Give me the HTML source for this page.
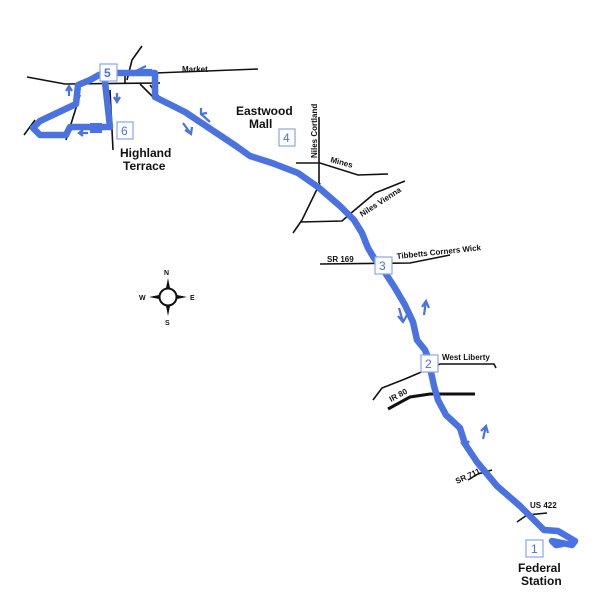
<!DOCTYPE html>
<html><head><style>
html,body{margin:0;padding:0;background:#fff;}
svg{display:block;}
text{font-family:"Liberation Sans",Arial,sans-serif;font-weight:bold;fill:#111;}
.r{fill:none;stroke:#111;stroke-width:1.6;}
.b{fill:#fff;stroke:#8aa6e8;stroke-width:1.2;}
.n{fill:#4a72e0;font-size:12px;font-weight:normal;}
.ar{fill:none;stroke:#4a72e0;stroke-width:2.2;}
</style></head><body>
<svg width="612" height="600" viewBox="0 0 612 600">
<path class="r" d="M27,77 L65,84 L160,83"/>
<path class="r" d="M155,73 L258,69"/>
<path class="r" d="M142,46 L132,60 L127,80"/>
<path class="r" d="M125,70 L125,84"/>
<path class="r" d="M110,90 L113,150"/>
<path class="r" d="M80,95 L66,140"/>
<path class="r" d="M35,120 L24,135"/>
<path class="r" d="M140,84 L152,96 L160,98 L150,85"/>
<path class="r" d="M319,117 L319,183"/>
<path class="r" d="M296,163 L320,163 L358,175 L388,174"/>
<path class="r" d="M320,183 L302,220 L293,233"/>
<path class="r" d="M300,222 L342,221 L350,214 L375,193 L405,181"/>
<path class="r" d="M320,264 L410,263 L450,255"/>
<path class="r" d="M373,400 L382,388 L405,379 L440,364 L494,364 L496,368"/>
<path class="r" d="M388,409 L410,397 L430,394 L475,394" style="stroke-width:3"/>
<path class="r" d="M468,480 L478,474 L492,470"/>
<path class="r" d="M517,522 L527,515 L547,513"/>
<path d="M562,544 L556,545 L552,541 L572,545 L575,541 L558,531 L544,530 L520,506 L497,486 L477,462 L465,444 L460,428 L446,415 L438,400 L434,386 L431,372 L429,360 L425,350 L417,340 L413,322 L405,305 L395,288 L384,271 L374,258 L368,248 L362,233 L354,220 L340,206 L318,187 L298,173 L272,163 L250,156 L236,146 L212,130 L185,112 L155,97 L155,73 L124,73 L104,73 L110,127 L92,127 L70,127 L66,135 L40,135 L33,128 L40,121 L76,104 L78,85 L90,80 L99,75 L104,73" fill="none" stroke="#4a72e0" stroke-width="6.5" stroke-linejoin="round" stroke-linecap="round"/>
<rect x="90" y="123" width="12" height="10" fill="#4a72e0"/>
<path class="ar" d="M146,66 L138,70 L146,74 M138,70 L152,70"/>
<path class="ar" d="M66,91 L69,86 L72,91 M69,86 L69,96"/>
<path class="ar" d="M114,97 L117,102 L120,97 M117,93 L117,102"/>
<path class="ar" d="M83,130 L79,133 L83,136 M79,133 L88,133"/>
<path class="ar" d="M201,108 L201,114 L207,113 M201,114 L210,122"/>
<path class="ar" d="M185,130 L191,134 L192,127 M183,123 L191,134"/>
<path class="ar" d="M398,316 L403,322 L407,315 M399,308 L403,322"/>
<path class="ar" d="M422,307 L426,301 L429,308 M424,315 L426,301"/>
<path class="ar" d="M461,442 L465,447 L469,441 M461,435 L465,447"/>
<path class="ar" d="M481,431 L486,426 L488,433 M483,439 L486,426"/>
<rect class="b" x="100" y="64" width="17" height="17"/><text class="n" x="104" y="77" style="font-weight:bold">5</text>
<rect class="b" x="117" y="122" width="16" height="17"/><text class="n" x="121" y="135">6</text>
<rect class="b" x="279" y="129" width="16" height="17"/><text class="n" x="283" y="142">4</text>
<rect class="b" x="375" y="257" width="17" height="17"/><text class="n" x="379" y="270">3</text>
<rect class="b" x="421" y="355" width="17" height="17"/><text class="n" x="425" y="368">2</text>
<rect class="b" x="526" y="540" width="17" height="17"/><text class="n" x="531" y="553">1</text>
<text x="182" y="72" font-size="8">Market</text>
<text x="120" y="157" font-size="12">Highland</text>
<text x="123" y="170" font-size="12">Terrace</text>
<text x="236" y="115" font-size="12">Eastwood</text>
<text x="249" y="128" font-size="12">Mall</text>
<text x="0" y="0" font-size="8" transform="translate(317,158) rotate(-90)">Niles Cortland</text>
<text x="0" y="0" font-size="8" transform="translate(330,162) rotate(15)">Mines</text>
<text x="0" y="0" font-size="8" transform="translate(362,217) rotate(-33)">Niles Vienna</text>
<text x="327" y="262" font-size="8">SR 169</text>
<text x="0" y="0" font-size="8" transform="translate(397,259) rotate(-6)">Tibbetts Corners Wick</text>
<text x="442" y="360" font-size="8">West Liberty</text>
<text x="0" y="0" font-size="8" transform="translate(391,402) rotate(-28)">IR 80</text>
<text x="0" y="0" font-size="8" transform="translate(457,484) rotate(-25)">SR 711</text>
<text x="530" y="508" font-size="8">US 422</text>
<text x="518" y="572" font-size="12">Federal</text>
<text x="521" y="585" font-size="12">Station</text>
<circle cx="168" cy="297" r="8.5" fill="#fff" stroke="#111" stroke-width="2"/>
<path d="M166,288 L168,278 L170,288 Z M166,306 L168,316 L170,306 Z M159,295 L149,297 L159,299 Z M177,295 L187,297 L177,299 Z" fill="#111"/>
<text x="164" y="275" font-size="7" font-weight="normal">N</text>
<text x="165" y="325" font-size="7" font-weight="normal">S</text>
<text x="139" y="300" font-size="7" font-weight="normal">W</text>
<text x="190" y="300" font-size="7" font-weight="normal">E</text>
</svg>
</body></html>
